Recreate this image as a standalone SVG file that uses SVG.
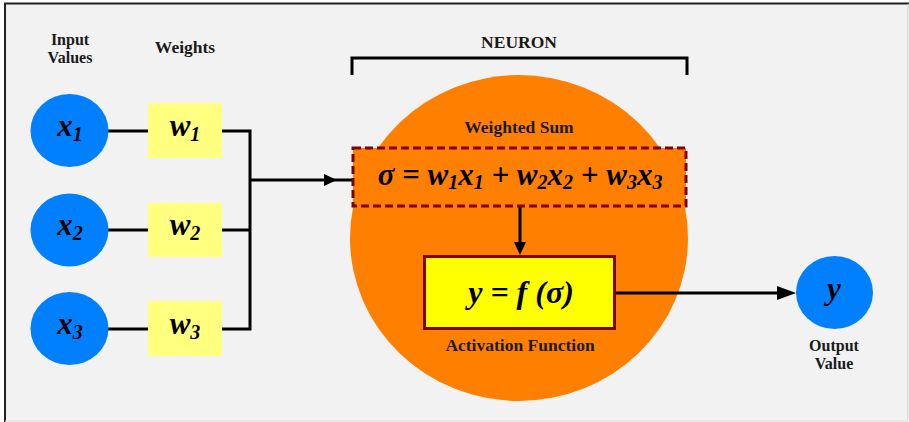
<svg xmlns="http://www.w3.org/2000/svg" width="909" height="422" viewBox="0 0 909 422">
<style>
.lbl{font-family:'Liberation Serif','Times New Roman',serif;font-weight:bold;font-size:17.5px;fill:#1a1a1a;text-anchor:middle}
.two{font-size:16px}
.math{font-family:'Liberation Serif','Times New Roman',serif;font-weight:bold;font-style:italic;fill:#000;text-anchor:middle}
.sub{font-size:20px}
.in{fill:#0080ff}
.w{fill:#ffff80}
.ln{stroke:#000;stroke-width:3;fill:none}
</style>
<rect x="0" y="0" width="909" height="422" fill="#ffffff"/>
<rect x="5" y="3.5" width="903" height="418" fill="#f2f2f2"/>
<line x1="4" y1="3.5" x2="909" y2="3.5" stroke="#222" stroke-width="2"/>
<line x1="5" y1="3" x2="5" y2="422" stroke="#222" stroke-width="2"/>
<line x1="908" y1="4" x2="908" y2="421" stroke="#ccc" stroke-width="1"/>
<line x1="5" y1="421" x2="908" y2="421" stroke="#ddd" stroke-width="1"/>

<text class="lbl two" x="70" y="45">Input</text>
<text class="lbl two" x="70" y="63">Values</text>
<text class="lbl" x="185" y="53">Weights</text>
<text class="lbl" x="519" y="48" font-size="18.5">NEURON</text>

<g id="neuron">
<ellipse cx="519" cy="238" rx="169" ry="163" fill="#ff8000"/>
<text class="lbl" x="519" y="133">Weighted Sum</text>
<text class="lbl" x="520" y="351">Activation Function</text>
</g>

<g id="connectors">
<path class="ln" d="M352,75 V58 H687 V75"/>
<line class="ln" x1="108" y1="131" x2="148" y2="131"/>
<line class="ln" x1="108" y1="230" x2="148" y2="230"/>
<line class="ln" x1="108" y1="329" x2="148" y2="329"/>
<path class="ln" d="M222,131 H250 V329 H222"/>
<line class="ln" x1="222" y1="230" x2="250" y2="230"/>
<line class="ln" x1="250" y1="180" x2="352" y2="180"/>
<polygon points="337,180 324,174 324,186" fill="#000"/>
<line class="ln" x1="520" y1="207" x2="520" y2="250"/>
<polygon points="520,255 514,242 526,242" fill="#000"/>
<line class="ln" x1="615" y1="293" x2="790" y2="293"/>
<polygon points="796,293 777,286 777,300" fill="#000"/>
</g>

<g id="weighted-sum">
<rect x="353" y="148" width="333" height="58" fill="#ff8000" stroke="#800000" stroke-width="3" stroke-dasharray="8,4"/>
<text class="math" x="520" y="185" font-size="31">σ = w<tspan class="sub" dy="4">1</tspan><tspan dy="-4">x</tspan><tspan class="sub" dy="4">1</tspan><tspan dy="-4"> + w</tspan><tspan class="sub" dy="4">2</tspan><tspan dy="-4">x</tspan><tspan class="sub" dy="4">2</tspan><tspan dy="-4"> + w</tspan><tspan class="sub" dy="4">3</tspan><tspan dy="-4">x</tspan><tspan class="sub" dy="4">3</tspan></text>
</g>

<g id="activation">
<rect x="424.5" y="256.5" width="190" height="72" fill="#ffff00" stroke="#800000" stroke-width="3"/>
<text class="math" x="521" y="303" font-size="32">y = f (σ)</text>
</g>

<g id="x1"><ellipse class="in" cx="69.5" cy="130.5" rx="39" ry="36.5"/><text class="math" x="70" y="136" font-size="31">x<tspan class="sub" dy="5">1</tspan></text></g>
<g id="x2"><ellipse class="in" cx="69.5" cy="230" rx="39" ry="36.5"/><text class="math" x="70" y="235" font-size="31">x<tspan class="sub" dy="5">2</tspan></text></g>
<g id="x3"><ellipse class="in" cx="69.5" cy="328.5" rx="39" ry="36.5"/><text class="math" x="70" y="334" font-size="31">x<tspan class="sub" dy="5">3</tspan></text></g>

<g id="w1"><rect class="w" x="148" y="103" width="74" height="55"/><text class="math" x="185" y="136" font-size="31">w<tspan class="sub" dy="5">1</tspan></text></g>
<g id="w2"><rect class="w" x="148" y="203" width="74" height="54"/><text class="math" x="185" y="235" font-size="31">w<tspan class="sub" dy="5">2</tspan></text></g>
<g id="w3"><rect class="w" x="148" y="301" width="74" height="55"/><text class="math" x="185" y="334" font-size="31">w<tspan class="sub" dy="5">3</tspan></text></g>

<g id="output">
<ellipse class="in" cx="834.5" cy="292.5" rx="38.5" ry="36.5"/>
<text class="math" x="834" y="299" font-size="31">y</text>
<text class="lbl two" x="834" y="351">Output</text>
<text class="lbl two" x="834" y="369">Value</text>
</g>
</svg>
